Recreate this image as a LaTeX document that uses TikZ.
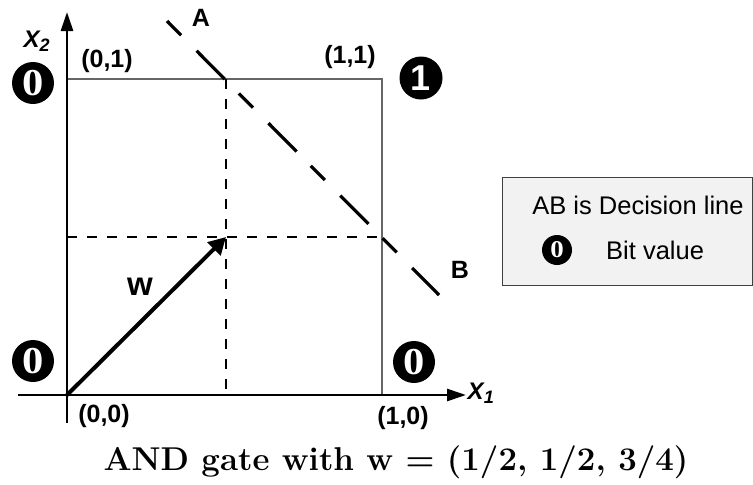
\documentclass[tikz,border=0pt]{standalone}
\usepackage{fontspec}
\setsansfont{Liberation Sans}
\newfontfamily\serifbit[FakeStretch=1.12]{Liberation Serif}
\usetikzlibrary{arrows.meta}
\begin{document}
\begin{tikzpicture}[x=1pt,y=-1pt,
  lbl/.style={font=\sffamily\bfseries\fontsize{25}{29}\selectfont, inner sep=0pt},
  axislabel/.style={font=\sffamily\bfseries\itshape\fontsize{24}{28}\selectfont, inner sep=0pt},
  legtext/.style={font=\sffamily\fontsize{25.5}{29}\selectfont, inner sep=0pt},
  bitzero/.style={circle, fill=black, text=white, minimum size=42pt, inner sep=0pt,
    font=\serifbit\bfseries\fontsize{38}{40}\selectfont},
  bitone/.style={circle, fill=black, text=white, minimum size=43pt, inner sep=0pt,
    font=\sffamily\bfseries\fontsize{36}{40}\selectfont},
  axis/.style={line width=2.7pt, -{Triangle[length=19pt,width=12pt]}},
  squareline/.style={draw=black!60, line width=1.5pt},
  guide/.style={line width=2pt, dash pattern=on 10pt off 10pt},
  decision/.style={line width=3.2pt, dash pattern=on 20pt off 22pt on 40pt off 20pt},
  vec/.style={line width=4pt, -{Triangle[length=17pt,width=18pt]}},
]
\useasboundingbox (0,0) rectangle (753,485);
\fill[white] (0,0) rectangle (753,485);

% key points
\coordinate (O) at (67,395);
\coordinate (ytop) at (67,12);
\coordinate (ybot) at (67,423);
\coordinate (xleft) at (18,395);
\coordinate (xright) at (466,395);
\coordinate (P01) at (67,79);
\coordinate (P11) at (382,79);
\coordinate (P10) at (382,395);
\coordinate (vtop) at (226,79);
\coordinate (vbot) at (226,395);
\coordinate (hleft) at (67,237);
\coordinate (hright) at (382,237);
\coordinate (W) at (226,237);
\coordinate (Aend) at (167,21);
\coordinate (Bend) at (439,295);

% unit square
\draw[squareline] (P01) -- (P11) -- (P10);

% guides
\draw[guide] (vtop) -- (vbot);
\draw[guide] (hleft) -- (hright);

% axes
\draw[axis] (ybot) -- (ytop);
\draw[axis] (xleft) -- (xright);

% decision line
\draw[decision] (Aend) -- (Bend);

% weight vector
\draw[vec] (O) -- (W);
\node[font=\sffamily\bfseries\fontsize{33}{36}\selectfont, inner sep=0pt] (wl) at (140,287) {w};

% labels
\node[axislabel] (x2) at (37,41) {X\textsubscript{\fontsize{18}{20}\selectfont 2}};
\node[axislabel] (x1) at (481,393) {X\textsubscript{\fontsize{18}{20}\selectfont 1}};
\node[lbl] (l01) at (107,61) {(0,1)};
\node[lbl] (l11) at (350,57) {(1,1)};
\node[lbl] (l00) at (104,416) {(0,0)};
\node[lbl] (l10) at (403,418) {(1,0)};
\node[lbl] (la) at (201,18) {A};
\node[lbl] (lb) at (460,270) {B};

% bit values
\node[bitzero] (b01) at (33,83) {0};
\node[bitone] (b11) at (421,78) {1};
\node[bitzero] (b00) at (33,361) {0};
\node[bitzero] (b10) at (414,362) {0};

% legend
\node[draw=black!75, line width=1pt, fill=black!5, minimum width=250pt, minimum height=108pt,
  inner sep=0pt] (legend) at (627,231) {};
\node[legtext] (leg1) at (638,205) {AB is Decision line};
\node[circle, fill=black, text=white, minimum size=30pt, inner sep=0pt,
  font=\serifbit\bfseries\fontsize{24}{26}\selectfont] (legbit) at (557,250) {0};
\node[legtext, anchor=west] (leg2) at (606,250) {Bit value};

% caption
\node[font=\bfseries\fontsize{33}{38}\selectfont, inner sep=0pt, anchor=base] (cap) at (396,470)
  {AND gate with w = (1/2, 1/2, 3/4)};
\end{tikzpicture}
\end{document}
